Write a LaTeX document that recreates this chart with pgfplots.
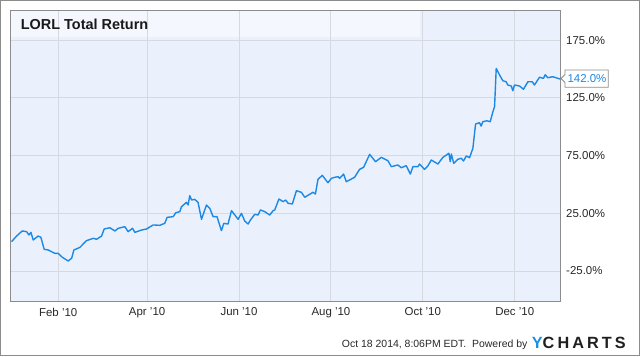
\documentclass[border=0pt]{standalone}
\usepackage{fontspec}
\setmainfont{Liberation Sans}
\usepackage{pgfplots}
\pgfplotsset{compat=1.18}
\definecolor{plotbg}{RGB}{234,241,252}
\definecolor{bandbg}{RGB}{244,247,254}
\definecolor{gridc}{RGB}{214,218,224}
\definecolor{framec}{RGB}{140,140,140}
\definecolor{linec}{RGB}{29,137,229}
\definecolor{txt}{RGB}{40,40,40}
\definecolor{ycblue}{RGB}{26,143,227}
\begin{document}
\begin{tikzpicture}[x=1bp,y=1bp]
\path (0,0) rectangle (640,356);
\draw[framec, line width=1bp] (0.5,0.5) rectangle (639.5,355.5);
\fill[plotbg] (10,55) rectangle (560.7,346);
\fill[bandbg] (10,319) rectangle (420,346);
\begin{axis}[
  at={(10bp,55bp)}, anchor=south west,
  width=550.7bp, height=291bp, scale only axis,
  xmin=-1, xmax=364.5, ymin=-51, ymax=201.2,
  axis line style={draw=framec, line width=0.8bp},
  grid=major, major grid style={draw=gridc, line width=1bp},
  major tick length=0pt,
  xtick={31,90,151,212,273,334},
  xticklabels={Feb '10,Apr '10,Jun '10,Aug '10,Oct '10,Dec '10},
  ytick={-25,25,75,125,175},
  yticklabels={-25.0\%,25.00\%,75.00\%,125.0\%,175.0\%},
  yticklabel pos=right,
  yticklabel style={anchor=west, inner sep=0pt, xshift=5.3bp, font=\fontsize{11.5}{12}\selectfont, text=txt},
  xticklabel style={anchor=north, inner sep=0pt, yshift=-6.5bp, font=\fontsize{11.5}{12}\selectfont, text=txt},
  clip=false,
]
\addplot[linec, line width=1.4bp, line join=round] coordinates {
(0,0.4)(3.4,5.3)(7.1,9.7)(10.0,9.1)(11.6,6.2)(12.9,8.5)(14.4,1.9)(17.7,5.3)(19.5,4.2)(21.7,-6.2)
(24.4,-6.8)(26.6,-8.3)(28.8,-9.7)(31,-9.7)(33.7,-13.1)(37.6,-16.3)(39.9,-14)(41.4,-6.8)(45.4,-4.5)
(49.8,1.3)(54.2,3.3)(56.5,2.5)(59.8,5.3)(61.5,11.4)(65.3,12.5)(68.6,9.7)(70.8,12)(75.2,13.4)
(77.4,9.1)(80.3,12)(81.9,8.5)(85.2,10)(86.3,10.5)(89.6,11.4)(94,14.9)(98.4,14.6)(101.7,16.3)
(103.3,21.5)(107.3,22.1)(109,25.5)(111.7,26.4)(112.8,30.7)(116.1,34.5)(117.2,32.2)(118.3,40.3)
(119.5,36.5)(121.6,37.1)(123.8,34.5)(126.1,19.8)(129.4,32.2)(131.6,29.3)(133.8,22.1)(136.4,22.1)
(139.3,10)(140.9,16.3)(143.7,15.7)(146,27.3)(150.4,19.8)(152.6,25)(154.8,18.3)(157,15.7)
(158.6,19.2)(161.4,24.1)(163.6,23.5)(165.2,27.9)(168.1,26.4)(171.4,23.5)(173.6,27.3)(174.7,27.9)
(177.5,37.4)(180.2,35.1)(182,36.5)(183.5,33.7)(186.4,33.1)(189.1,44.6)(192.4,43.2)(194.6,38.9)
(200.1,43.2)(201.7,41.7)(203.4,54.5)(206.3,57.9)(210,51.5)(212.3,55.3)(214.5,56.2)(216.7,56.7)
(217.8,55.3)(220.4,59)(222.2,52.4)(224.4,53.9)(227.7,56.2)(231,63.1)(233.7,64.9)(237.7,76.1)
(241.6,69.7)(245.4,73.5)(249.8,70.6)(252.1,65.4)(256.4,66.9)(258.7,64.5)(262,66.3)(264.7,59)
(266.4,65.4)(269.7,65.4)(270.8,67.7)(274.1,63.1)(276.3,66)(278.6,71.2)(283,67.7)(286.3,73.5)
(290.3,77)(291.2,69.7)(291.9,76.4)(293.5,68.3)(296.2,71.8)(298.5,72.7)(300,70.3)(301.8,74.7)
(304,73.2)(306.2,81.3)(308,102.4)(310.6,103.5)(311.7,100.6)(312.8,104.4)(315.5,105.2)(317.7,104.4)
(319.5,113)(320.6,117.4)(321.7,150.6)(323.9,144.9)(326.1,139.9)(328.3,139)(329.4,136.2)(331.7,135.3)
(332.7,131.2)(333.8,136.2)(337.2,135.3)(339.8,132.5)(342.7,139)(345.6,139)(347.1,136.2)(350.4,142.9)
(353.1,142)(354.2,145.1)(355.9,142.5)(359.2,143.4)(362.5,142)(364.1,141.4)
};
\end{axis}
% callout
\draw[framec, fill=white, line width=0.8bp] (561,277.5) -- (565,281.5) -- (565,286) -- (608.3,286) -- (608.3,268.7) -- (565,268.7) -- (565,273.5) -- cycle;
\node[anchor=center, inner sep=0pt, text=linec, font=\fontsize{11.5}{12}\selectfont] at (587,277.4) {142.0\%};
% title
\node[anchor=base west, inner sep=0pt, text=black!90, font=\bfseries\fontsize{14.5}{15}\selectfont] at (20.7,326.7) {LORL Total Return};
% footer
\node[anchor=base west, inner sep=0pt, text=txt, font=\fontsize{10.5}{11}\selectfont] at (341.7,8.3) {Oct 18 2014, 8:06PM EDT.\ \ Powered by};
\node[anchor=base west, inner sep=0pt, font=\bfseries\fontsize{16.3}{17}\selectfont\addfontfeatures{LetterSpace=19}] at (531.7,7.7) {\textcolor{ycblue}{Y}\textcolor{black!88}{CHARTS}};
\end{tikzpicture}
\end{document}
